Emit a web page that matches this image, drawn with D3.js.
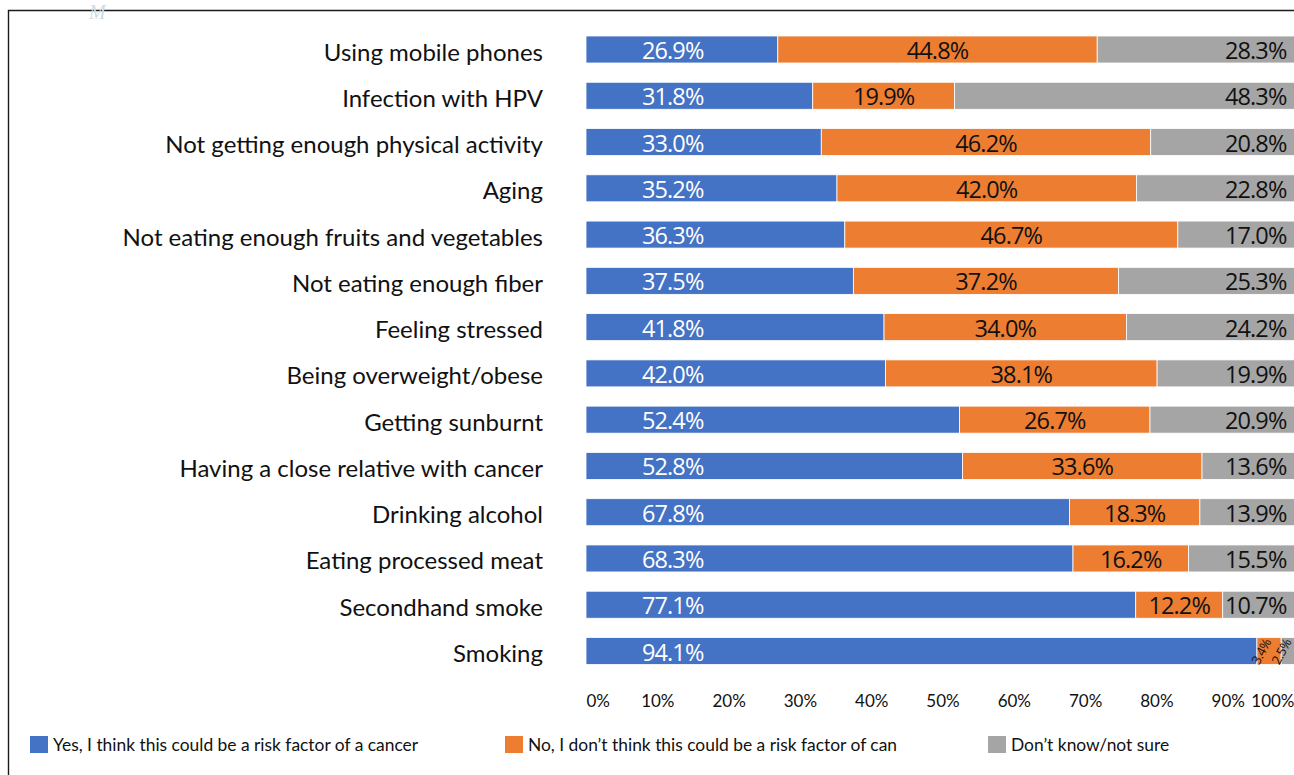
<!DOCTYPE html>
<html>
<head>
<meta charset="utf-8">
<script src="https://cdn.jsdelivr.net/npm/d3@7"></script>
<style>
  html, body { margin: 0; padding: 0; background: #fff; overflow: hidden; }
  svg { display: block; }
</style>
</head>
<body>
<svg id="chart" width="1294" height="775"></svg>
<script>
// Survey: perceived cancer risk factors (share of respondents, %)
const categories = [
  "Using mobile phones",
  "Infection with HPV",
  "Not getting enough physical activity",
  "Aging",
  "Not eating enough fruits and vegetables",
  "Not eating enough fiber",
  "Feeling stressed",
  "Being overweight/obese",
  "Getting sunburnt",
  "Having a close relative with cancer",
  "Drinking alcohol",
  "Eating processed meat",
  "Secondhand smoke",
  "Smoking"
];
const yesValues    = [26.9, 31.8, 33.0, 35.2, 36.3, 37.5, 41.8, 42.0, 52.4, 52.8, 67.8, 68.3, 77.1, 94.1];
const noValues     = [44.8, 19.9, 46.2, 42.0, 46.7, 37.2, 34.0, 38.1, 26.7, 33.6, 18.3, 16.2, 12.2, 3.4];
const unsureValues = [28.3, 48.3, 20.8, 22.8, 17.0, 25.3, 24.2, 19.9, 20.9, 13.6, 13.9, 15.5, 10.7, 2.5];
const seriesNames = [
  "Yes, I think this could be a risk factor of a cancer",
  "No, I don\u2019t think this could be a risk factor of can",
  "Don\u2019t know/not sure"
];
const tickValues = [0, 10, 20, 30, 40, 50, 60, 70, 80, 90, 100];

const colors = ["#4472C4", "#ED7D31", "#A5A5A5"];
const labelFont = "Lato, 'Noto Sans', sans-serif";
const valueFont = "'Open Sans', 'Noto Sans', sans-serif";

const svg = d3.select("#chart");

// Frame lines (top and left)
svg.append("path")
  .attr("d", "M8.5,775 L8.5,10.5 L1294,10.5")
  .attr("fill", "none")
  .attr("stroke", "#1a1a1a")
  .attr("stroke-width", 1.4);

// Faint mark above the frame
svg.append("text")
  .attr("x", 89).attr("y", 19)
  .attr("font-family", "'Liberation Serif', serif")
  .attr("font-style", "italic")
  .attr("font-size", 20)
  .attr("fill", "#cfdbe6")
  .text("M");

const x = d3.scaleLinear().domain([0, 100]).range([586, 1299]);
const y = d3.scalePoint().domain(categories).range([49.5, 651]);
const barH = 27;

const rows = categories.map((c, i) => {
  const vals = [yesValues[i], noValues[i], unsureValues[i]];
  let acc = 0;
  const segs = vals.map((v, k) => {
    const s = { cat: c, k, v, x0: acc, x1: acc + v };
    acc += v;
    return s;
  });
  return { cat: c, segs };
});

const rowG = svg.append("g").selectAll("g")
  .data(rows).join("g")
  .attr("transform", d => `translate(0,${y(d.cat) - barH / 2})`);

rowG.selectAll("rect")
  .data(d => d.segs).join("rect")
  .attr("x", d => x(d.x0))
  .attr("width", d => x(d.x1) - x(d.x0))
  .attr("y", 0)
  .attr("height", barH)
  .attr("fill", d => colors[d.k])
  .attr("stroke", "#fff")
  .attr("stroke-width", 0.8);

// Value labels
rowG.selectAll("text.val")
  .data(d => d.segs.filter(s => s.v >= 5)).join("text")
  .attr("class", "val")
  .attr("x", d => d.k === 0 ? x(0) + 56 : d.k === 1 ? (x(d.x0) + x(d.x1)) / 2 : 1225)
  .attr("y", barH / 2 + 9.5)
  .attr("text-anchor", d => d.k === 1 ? "middle" : "start")
  .attr("font-family", valueFont)
  .attr("font-size", 23.5)
  .attr("letter-spacing", -0.9)
  .attr("fill", d => d.k === 0 ? "#fff" : "#111")
  .text(d => d.v.toFixed(1) + "%");

// Small segments get rotated labels
rowG.selectAll("text.small")
  .data(d => d.segs.filter(s => s.v < 5)).join("text")
  .attr("class", "small")
  .attr("transform", d => `translate(${x(d.x0) + (d.k === 1 ? 2 : -2)},${barH + 1}) rotate(-62)`)
  .attr("text-anchor", "start")
  .attr("font-family", valueFont)
  .attr("font-size", 13)
  .attr("letter-spacing", -0.6)
  .attr("fill", "#111")
  .text(d => d.v.toFixed(1) + "%");

// Category labels
svg.append("g").selectAll("text")
  .data(categories).join("text")
  .attr("x", 543)
  .attr("y", d => y(d) + 11)
  .attr("text-anchor", "end")
  .attr("font-family", labelFont)
  .attr("font-size", 24)
  .attr("fill", "#111")
  .text(d => d);

// X axis
const axisG = svg.append("g")
  .attr("transform", "translate(0,681)")
  .call(d3.axisBottom(x).tickValues(tickValues).tickFormat(d => d + "%").tickSize(0).tickPadding(14));
axisG.select(".domain").remove();
axisG.selectAll("text")
  .attr("font-family", labelFont)
  .attr("font-size", 17)
  .attr("fill", "#111")
  .attr("text-anchor", d => d === 0 ? "start" : d === 100 ? "end" : "middle")
  .attr("dx", d => d === 100 ? -5 : 0);

// Legend
const legendX = [30, 505, 988];
const leg = svg.append("g").selectAll("g")
  .data(seriesNames).join("g")
  .attr("transform", (d, i) => `translate(${legendX[i]},736)`);
leg.append("rect")
  .attr("width", 18).attr("height", 17)
  .attr("fill", (d, i) => colors[i]);
leg.append("text")
  .attr("x", 23).attr("y", 15)
  .attr("font-family", labelFont)
  .attr("font-size", 17.4)
  .attr("fill", "#111")
  .text(d => d);
</script>
</body>
</html>
